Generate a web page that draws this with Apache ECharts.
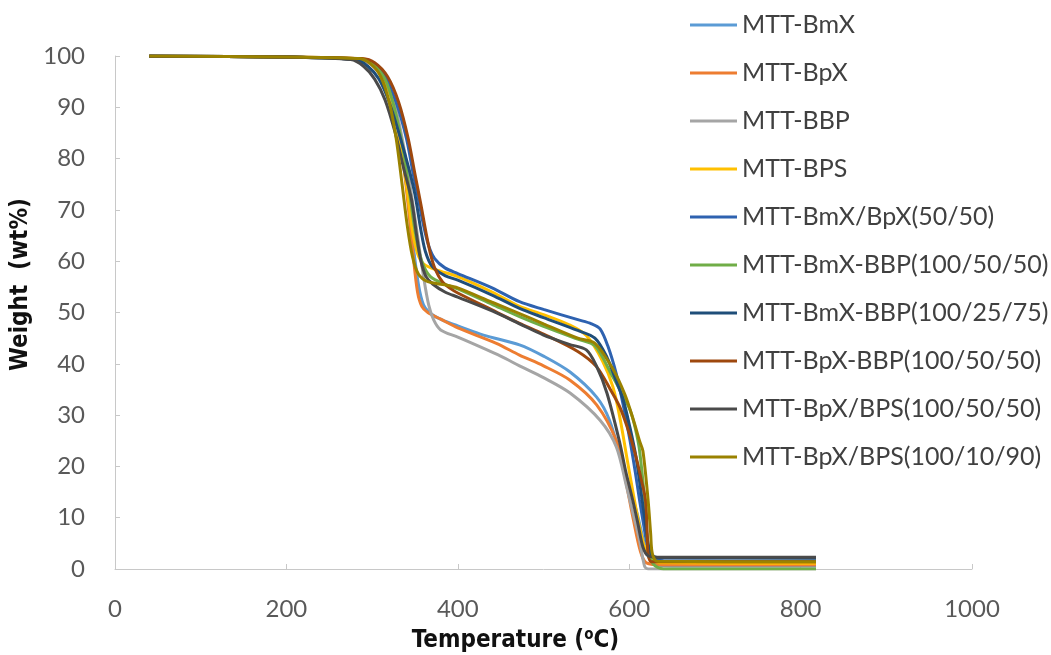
<!DOCTYPE html>
<html>
<head>
<meta charset="utf-8">
<script src="https://cdn.jsdelivr.net/npm/echarts@6/dist/echarts.min.js"></script>
<style>
  html, body { margin: 0; padding: 0; background: #fff; }
  #chart { width: 1051px; height: 655px; }
</style>
</head>
<body>
<div id="chart"></div>
<script>
// TGA curves: [temperature (°C), weight (wt%)]
const seriesNames = [
  'MTT-BmX', 'MTT-BpX', 'MTT-BBP', 'MTT-BPS', 'MTT-BmX/BpX(50/50)',
  'MTT-BmX-BBP(100/50/50)', 'MTT-BmX-BBP(100/25/75)', 'MTT-BpX-BBP(100/50/50)',
  'MTT-BpX/BPS(100/50/50)', 'MTT-BpX/BPS(100/10/90)'
];
const seriesColors = ['#5B9BD5', '#ED7D31', '#A5A5A5', '#FFC000', '#2E62B0',
  '#70AD47', '#1F4E79', '#9E480E', '#4A4A4A', '#9A8200'];

const bmx = [[40,100],[200,99.8],[285,99.3],[300,98.3],[315,95.5],[325,91],[335,82],[342,72],[348,63],[354,55.5],[360,51.5],[370,49.6],[385,48.3],[400,47.4],[430,45.6],[472,43.7],[500,41.5],[531,38.4],[562,33.5],[577,29],[593,20],[609,11],[621,3],[630,1],[650,0.6],[818,0.6]];
const bpx = [[40,100],[200,99.8],[285,99.3],[300,98.2],[315,95],[325,90.5],[335,81],[342,71],[348,61],[353,54],[358,51.2],[365,50],[380,48.7],[400,47],[445,44],[472,41.7],[500,39.6],[531,36.8],[562,32],[585,25],[595,18],[605,9.5],[613,3.5],[620,1.2],[640,0.8],[818,0.8]];
const bbp = [[40,100],[200,99.8],[285,99.3],[300,98.3],[315,95.5],[325,91.5],[335,84],[345,74],[353,65],[360,57],[366,51.5],[372,48.5],[380,46.6],[400,45.2],[450,41.5],[472,39.6],[500,37.3],[531,34.3],[566,29],[585,23.8],[597,16],[605,10.5],[612,5.6],[618,0.5],[622,0],[818,0]];
const bps = [[40,100],[200,99.8],[285,99.5],[300,98.8],[312,96.5],[322,92],[332,84],[340,75],[347,66],[353,61.5],[360,59.5],[375,58.3],[400,57],[440,54],[472,51.2],[500,49.6],[530,47.6],[550,45.5],[569,40.5],[581,35.5],[589,29.6],[598,21],[606,13.5],[613,7.5],[618,4.3],[625,2],[640,1.2],[818,1.1]];
const bmxBpx5050 = [[40,100],[200,99.8],[285,99.4],[300,98.6],[315,96],[328,91],[340,84],[348,77],[353,73],[360,67],[366,63],[373,60.5],[385,58.7],[400,57.6],[440,54.8],[472,52.1],[500,50.6],[540,48.6],[556,47.8],[566,46.8],[575,43.5],[585,38],[593,32],[601,25],[607,19],[612,13.5],[617,8.5],[620,5.6],[626,2.5],[640,1.6],[818,1.5]];
const bmxBbp1005050 = [[40,100],[200,99.8],[285,99.4],[300,98.5],[315,95.5],[325,90.5],[336,82],[344,73],[351,65],[358,60],[368,57],[385,55.5],[400,54.6],[440,51.6],[472,49.2],[500,47.3],[540,44.8],[560,43.5],[581,37.4],[592,34],[601,31],[607,27.5],[612,23.2],[618,13.5],[622,4.3],[628,1],[640,0],[818,0]];
const bmxBbp1002575 = [[40,100],[200,99.8],[280,99.3],[295,98],[308,95.5],[320,91],[333,84],[343,78],[350,73],[357,66],[362,62],[370,59],[385,57.2],[400,56.3],[440,53.4],[472,50.8],[500,49],[540,46.5],[560,45],[574,41.3],[584,37],[593,33],[601,27.5],[608,21.8],[613,16],[618,10],[625,3],[635,2.2],[818,2.1]];
const bpxBbp1005050 = [[40,100],[200,99.8],[288,99.5],[303,98.7],[318,96],[331,91],[342,84],[350,77],[357,71],[363,65.5],[368,61.5],[374,58.3],[382,56],[392,54.6],[400,53.8],[440,50.5],[472,47.9],[500,45.8],[540,42.4],[562,39.4],[578,35],[589,31.6],[600,26.5],[608,21.8],[614,17.5],[619,13.5],[621,7],[622,3],[626,1.4],[818,1.4]];
const bpxBps1005050 = [[40,100],[200,99.8],[275,99.3],[290,98],[303,95.5],[315,91.5],[327,85],[337,78],[346,72],[352,65],[357,60],[363,57],[371,55.5],[385,54],[400,53],[440,50.3],[472,47.8],[500,45.6],[530,43.8],[550,42.7],[562,39.5],[574,34.3],[589,24.6],[596,19],[604,13.5],[610,9],[616,4.3],[622,2.6],[635,2.3],[818,2.3]];
const bpxBps1001090 = [[40,100],[200,99.8],[285,99.5],[298,98.5],[310,96],[320,91],[328,84],[335,75],[341,67],[347,61],[354,57.5],[365,56],[385,55.4],[400,54.8],[440,52],[472,49.8],[500,47.8],[540,45],[560,44],[581,39],[595,34],[605,29],[612,25],[616,23],[622,13.5],[625,7],[627,3],[633,1.5],[818,1.4]];

const seriesData = [bmx, bpx, bbp, bps, bmxBpx5050, bmxBbp1005050, bmxBbp1002575,
  bpxBbp1005050, bpxBps1005050, bpxBps1001090];

const xTicks = { min: 0, max: 1000, interval: 200 };
const yTicks = { min: 0, max: 100, interval: 10 };

const chart = echarts.init(document.getElementById('chart'));
const tickFont = { fontFamily: 'Lato', fontSize: 24, color: '#595959' };
const titleFont = "'DejaVu Sans Condensed', 'Liberation Sans', Arial, sans-serif";
const axisGrey = '#C8C8C8';

chart.setOption({
  animation: false,
  backgroundColor: '#ffffff',
  color: seriesColors,
  grid: { left: 115, right: 79, top: 56, bottom: 86, outerBoundsMode: 'none', containLabel: false },
  legend: {
    orient: 'vertical',
    left: 685,
    top: 7,
    icon: 'rect',
    itemWidth: 47,
    itemHeight: 3,
    itemGap: 22,
    textStyle: { fontFamily: 'Lato', fontSize: 25, color: '#404040', lineHeight: 26 },
    data: seriesNames
  },
  xAxis: {
    type: 'value',
    min: xTicks.min, max: xTicks.max, interval: xTicks.interval,
    splitLine: { show: false },
    axisLine: { show: true, lineStyle: { color: axisGrey, width: 1 } },
    axisTick: { show: true, inside: true, length: 5, lineStyle: { color: axisGrey } },
    axisLabel: Object.assign({ margin: 28, formatter: v => String(v) }, tickFont),
    name: '{a|Temperature (}{s|o}{a|C)}',
    nameLocation: 'middle',
    nameGap: 59,
    nameTextStyle: {
      padding: [0, 56, 0, 0],
      rich: {
        a: { fontFamily: titleFont, fontWeight: 'bold', fontSize: 24, color: '#111' },
        s: { fontFamily: titleFont, fontWeight: 'bold', fontSize: 15, color: '#111', padding: [0, 0, 10, 0] }
      }
    }
  },
  yAxis: {
    type: 'value',
    min: yTicks.min, max: yTicks.max, interval: yTicks.interval,
    splitLine: { show: false },
    axisLine: { show: true, lineStyle: { color: axisGrey, width: 1 } },
    axisTick: { show: true, inside: true, length: 5, lineStyle: { color: axisGrey } },
    axisLabel: Object.assign({ margin: 30, formatter: v => String(v) }, tickFont),
    name: 'Weight  (wt%)',
    nameLocation: 'middle',
    nameGap: 80,
    nameTextStyle: {
      fontFamily: titleFont, fontWeight: 'bold', fontSize: 24, color: '#111',
      padding: [0, 0, 0, 56]
    }
  },
  series: seriesNames.map((name, i) => ({
    name: name,
    type: 'line',
    data: seriesData[i],
    showSymbol: false,
    symbol: 'none',
    smooth: 0.3,
    lineStyle: { width: 3, color: seriesColors[i] },
    itemStyle: { color: seriesColors[i] },
    z: 2
  }))
});
</script>
</body>
</html>
